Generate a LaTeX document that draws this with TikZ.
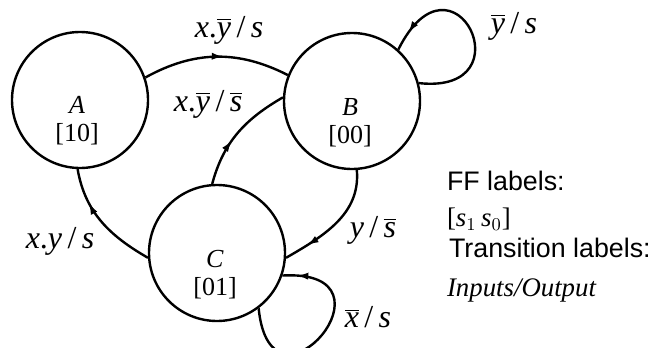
\documentclass[tikz,border=0pt]{standalone}
\usepackage{fontspec}
\setmainfont{Liberation Serif}
\newfontfamily\arialfont{Liberation Sans}
\usetikzlibrary{arrows.meta,decorations.markings}
\newcommand{\ovl}[1]{$\overline{\mbox{\textit{#1}}}$}
\tikzset{
  state/.style={circle,draw,line width=1.2pt,minimum size=68pt,inner sep=0pt},
  statetext/.style={align=center,font=\fontsize{13}{14}\selectfont},
  trlabel/.style={font=\fontsize{16}{18}\selectfont},
  legend/.style={anchor=west,font=\arialfont\fontsize{13.4}{15}\selectfont},
  trans/.style={line width=1.2pt,postaction={decorate},
    decoration={markings,mark=at position #1 with {\arrow{Latex[length=6pt,width=3.6pt]}}}},
}

\begin{document}
\begin{tikzpicture}[x=0.5pt,y=0.5pt]
\useasboundingbox (0,0) rectangle (648,-348);
% states
\node[state] (A) at (80,-100) {};
\node[state] (B) at (352,-101) {};
\node[state] (C) at (217,-253) {};
\node[statetext] (Atxt) at (77,-121) {\textit{A}\\{}[10]};
\node[statetext] (Btxt) at (350,-123) {\textit{B}\\{}[00]};
\node[statetext] (Ctxt) at (215,-275) {\textit{C}\\{}[01]};
% transitions
\draw[trans=0.55] (A.19) to[bend left=28] (B.158);
\draw[trans=0.42] (C.94) to[out=75,in=210] (B.177);
\draw[trans=0.7] (C.184) to[out=150,in=-80] (A.268);
\draw[trans=0.8] (B.-86) to[out=-85,in=30] (C.-4);
\draw[trans=0.9] (B.15) .. controls +(110,-12) and +(55,110) .. (B.48);
\draw[trans=0.93] (C.-53) .. controls +(12,-122) and +(125,7) .. (C.-19);
% transition labels
\node[trlabel] (lAB) at (229,-30) {\textit{x}.\ovl{y}\,/\,\textit{s}};
\node[trlabel] (lCB) at (208,-104) {\textit{x}.\ovl{y}\,/\,\ovl{s}};
\node[trlabel] (lCA) at (60,-241) {\textit{x}.\textit{y}\,/\,\textit{s}};
\node[trlabel] (lBC) at (373,-230) {\textit{y}\,/\,\ovl{s}};
\node[trlabel] (lCC) at (368,-317) {\ovl{x}\,/\,\textit{s}};
\node[trlabel] (lBB) at (514,-26) {\ovl{y}\,/\,\textit{s}};
% legend
\node[legend] (ff) at (440,-181) {FF labels:};
\node[legend,font=\fontsize{13.4}{15}\selectfont] (ffv) at (440,-219) {[\textit{s}$_1$\,\textit{s}$_0$]};
\node[legend] (tl) at (442,-248) {Transition labels:};
\node[legend,font=\itshape\fontsize{13.4}{15}\selectfont] (tlv) at (440,-290) {Inputs/Output};
\end{tikzpicture}
\end{document}
